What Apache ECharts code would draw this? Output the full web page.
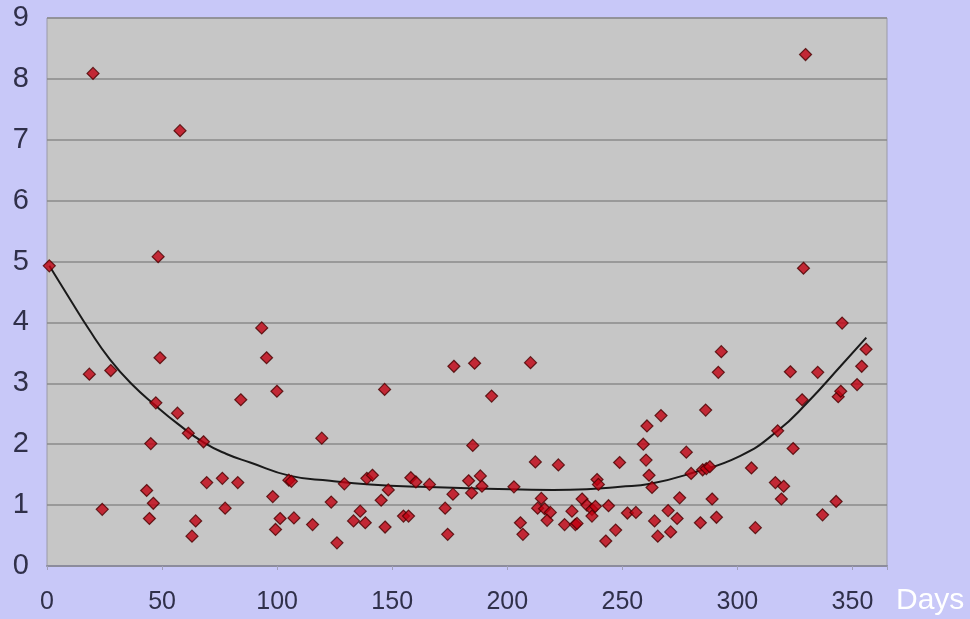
<!DOCTYPE html>
<html>
<head>
<meta charset="utf-8">
<script src="https://cdn.jsdelivr.net/npm/echarts@6/dist/echarts.min.js"></script>
<style>
html, body { margin: 0; padding: 0; background: #c8c8f8; }
#chart { width: 970px; height: 619px; }
</style>
</head>
<body>
<div id="chart"></div>
<script>
// scatter points [day, value]
const points = [
  [1, 4.93], [20, 8.09], [57.8, 7.15], [48.3, 5.08], [329.6, 8.4], [328.7, 4.89],
  [18.4, 3.15], [27.7, 3.21], [24, 0.93], [49.1, 3.42], [47.3, 2.68], [56.7, 2.51],
  [61.4, 2.18], [68, 2.04], [45.1, 2.01], [43.3, 1.24], [46.2, 1.03], [44.5, 0.78],
  [64.6, 0.74], [63, 0.49], [69.4, 1.37], [76.2, 1.44], [77.4, 0.95], [82.9, 1.37],
  [84.2, 2.73], [93.3, 3.91], [95.4, 3.42], [99.9, 2.87], [98.1, 1.14], [101.3, 0.78],
  [99.3, 0.6], [105.1, 1.41], [106.2, 1.39], [107.3, 0.79], [115.4, 0.68], [119.4, 2.1],
  [123.5, 1.05], [126, 0.38], [129.2, 1.35], [133.2, 0.74], [136.1, 0.9], [138.3, 0.71],
  [139, 1.44], [141.4, 1.49], [146.7, 2.9], [145.2, 1.08], [148.3, 1.25], [146.9, 0.64],
  [154.9, 0.82], [157.1, 0.82], [158.1, 1.45], [160.3, 1.38], [166.2, 1.34], [173, 0.95],
  [174.1, 0.52], [176.4, 1.18], [176.8, 3.28], [185, 1.98], [183.2, 1.4], [184.5, 1.2],
  [185.8, 3.33], [188.3, 1.48], [189, 1.31], [193.2, 2.79], [202.9, 1.3], [205.7, 0.71],
  [206.8, 0.52], [210.1, 3.34], [212.2, 1.71], [214.8, 1.11], [213.2, 0.95], [216.2, 0.94],
  [218.7, 0.88], [217.3, 0.75], [222.2, 1.66], [224.9, 0.68], [229.6, 0.68], [230.3, 0.7],
  [228.1, 0.9], [232.5, 1.1], [234.6, 1.0], [236.8, 0.93], [238.3, 0.98], [236.8, 0.82],
  [239, 1.42], [239.6, 1.34], [244, 0.99], [242.8, 0.41], [247.1, 0.59], [248.8, 1.7],
  [252.2, 0.87], [255.9, 0.88], [260.7, 2.3], [259.1, 2.0], [260.3, 1.74], [261.6, 1.49],
  [262.9, 1.29], [266.8, 2.47], [264, 0.74], [265.4, 0.49], [269.9, 0.91], [271, 0.56],
  [273.8, 0.78], [274.9, 1.12], [277.8, 1.87], [279.9, 1.52], [283.9, 0.71], [284.9, 1.58],
  [286.5, 1.6], [288, 1.63], [286.2, 2.56], [289, 1.1], [290.9, 0.8], [291.7, 3.18],
  [293, 3.52], [306.1, 1.61], [307.8, 0.63], [316.5, 1.37], [320.1, 1.31], [319.1, 1.1],
  [317.5, 2.22], [323, 3.19], [324.2, 1.93], [328.1, 2.73], [334.9, 3.18], [337, 0.84],
  [342.9, 1.06], [343.8, 2.78], [344.9, 2.87], [345.5, 3.99], [352, 2.98], [354, 3.28],
  [355.9, 3.56]
]
// trend curve
const trend = [
  [1, 4.93], [10, 4.38], [18, 3.9], [27.4, 3.39], [37, 2.98], [47.3, 2.63], [57, 2.33],
  [68, 2.03], [78, 1.84], [88.3, 1.7], [105.7, 1.48], [123, 1.4], [140.4, 1.34],
  [162.2, 1.3], [191.2, 1.27], [220, 1.25], [234.6, 1.26], [249.1, 1.3], [262.2, 1.35],
  [279.6, 1.52], [301.3, 1.81], [317.5, 2.22], [330.3, 2.68], [344.8, 3.28], [356, 3.75]
]
const xTicks = [0, 50, 100, 150, 200, 250, 300, 350]

const myChart = echarts.init(document.getElementById('chart'))
myChart.setOption({
  backgroundColor: '#c8c8f8',
  animation: false,
  grid: {
    left: 47,
    top: 18,
    right: 83,
    bottom: 53,
    show: true,
    backgroundColor: '#c6c6c6',
    borderColor: '#9a9aa8',
    borderWidth: 1
  },
  graphic: [{
    type: 'text',
    left: 896,
    top: 586,
    style: { text: 'Days', fill: '#ffffff', fontSize: 30, fontFamily: 'Liberation Sans' }
  }],
  xAxis: {
    type: 'value',
    min: 0,
    max: 365,
    interval: 50,
    splitLine: { show: false },
    axisLine: { lineStyle: { color: '#8c8c9c', width: 2 } },
    axisTick: { show: true, length: 4, lineStyle: { color: '#a0a0b8' } },
    axisLabel: {
      color: '#30304a',
      fontSize: 25,
      fontFamily: 'Liberation Sans',
      margin: 24,
      formatter: v => xTicks.includes(v) ? String(v) : ''
    }
  },
  yAxis: {
    type: 'value',
    min: 0,
    max: 9,
    interval: 1,
    axisLine: { show: false },
    axisTick: { show: false },
    splitLine: { lineStyle: { color: '#8a8a8a', width: 1.5 } },
    axisLabel: {
      color: '#30304a',
      fontSize: 29,
      fontFamily: 'Liberation Sans',
      margin: 18
    }
  },
  series: [
    {
      type: 'line',
      data: trend,
      smooth: true,
      showSymbol: false,
      lineStyle: { color: '#1a1a1a', width: 2 },
      z: 2
    },
    {
      type: 'scatter',
      data: points,
      symbol: 'diamond',
      symbolSize: 12,
      itemStyle: { color: '#c00010', borderColor: '#4a0000', borderWidth: 1.2 },
      z: 3
    }
  ]
})
</script>
</body>
</html>
